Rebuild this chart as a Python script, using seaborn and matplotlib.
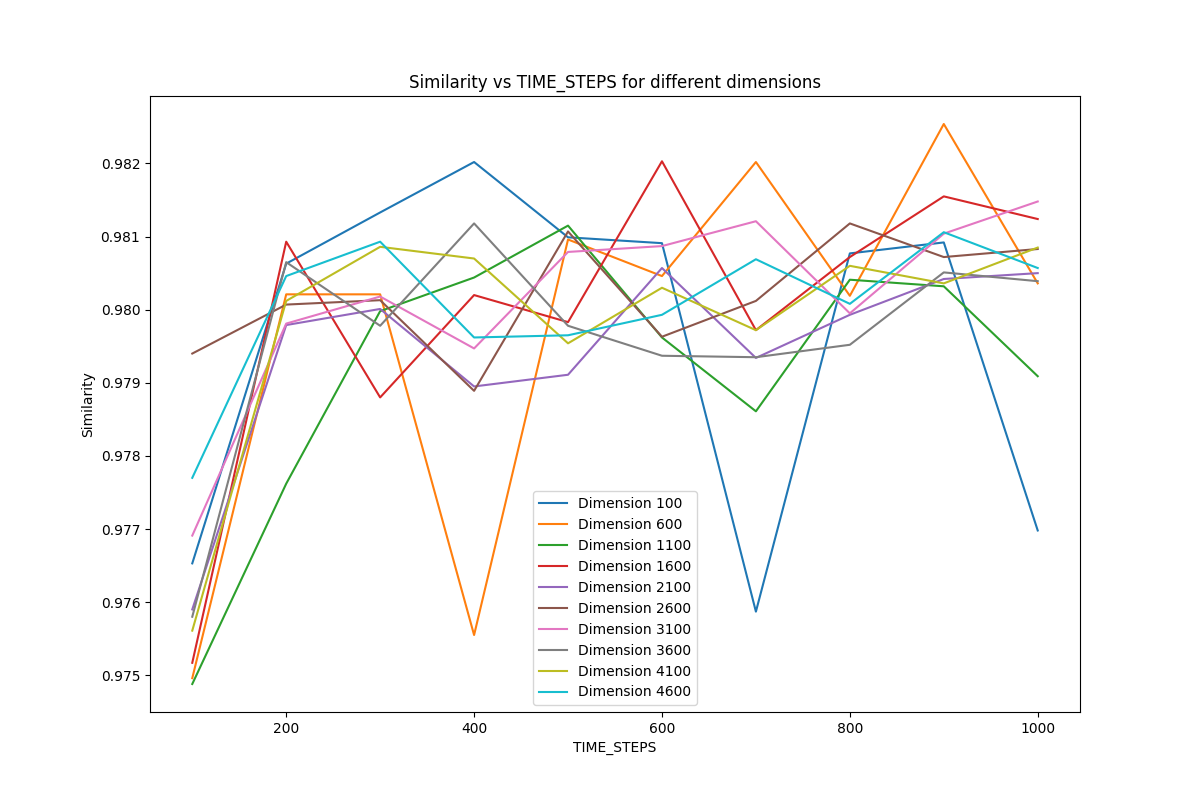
import pandas as pd
import matplotlib
matplotlib.use("Agg")
import matplotlib.pyplot as plt
import seaborn as sns

time_steps = [100, 200, 300, 400, 500, 600, 700, 800, 900, 1000]
dimensions = [100, 600, 1100, 1600, 2100, 2600, 3100, 3600, 4100, 4600]

# similarity per dimension
sim_100 = [0.97653, 0.98063, 0.98133, 0.98202, 0.98099, 0.98091, 0.97587, 0.98077, 0.98092, 0.97698]
sim_600 = [0.97496, 0.98021, 0.98021, 0.97555, 0.98096, 0.98046, 0.98202, 0.98019, 0.98254, 0.98036]
sim_1100 = [0.97488, 0.97762, 0.97998, 0.98044, 0.98115, 0.97962, 0.97861, 0.98041, 0.98032, 0.97909]
sim_1600 = [0.97517, 0.98093, 0.97880, 0.98020, 0.97983, 0.98203, 0.97972, 0.98072, 0.98155, 0.98124]
sim_2100 = [0.97590, 0.97979, 0.98001, 0.97895, 0.97911, 0.98057, 0.97934, 0.97993, 0.98042, 0.98050]
sim_2600 = [0.97940, 0.98007, 0.98013, 0.97889, 0.98107, 0.97963, 0.98012, 0.98118, 0.98072, 0.98083]
sim_3100 = [0.97691, 0.97981, 0.98018, 0.97947, 0.98079, 0.98087, 0.98121, 0.97995, 0.98104, 0.98148]
sim_3600 = [0.97580, 0.98065, 0.97978, 0.98118, 0.97978, 0.97937, 0.97935, 0.97952, 0.98051, 0.98039]
sim_4100 = [0.97561, 0.98012, 0.98086, 0.98070, 0.97954, 0.98030, 0.97972, 0.98060, 0.98036, 0.98085]
sim_4600 = [0.97770, 0.98046, 0.98093, 0.97962, 0.97965, 0.97993, 0.98069, 0.98008, 0.98106, 0.98057]

series = [sim_100, sim_600, sim_1100, sim_1600, sim_2100,
          sim_2600, sim_3100, sim_3600, sim_4100, sim_4600]

rows = []
for dim, vals in zip(dimensions, series):
    for t, v in zip(time_steps, vals):
        rows.append({"TIME_STEPS": t, "Similarity": v, "dim": f"Dimension {dim}"})
df = pd.DataFrame(rows)
labels = [f"Dimension {d}" for d in dimensions]

fig, ax = plt.subplots(figsize=(12, 8), dpi=100)
sns.lineplot(data=df, x="TIME_STEPS", y="Similarity", hue="dim",
             hue_order=labels, palette="tab10", ax=ax, linewidth=1.5)
ax.legend(loc="lower center")
ax.set_title("Similarity vs TIME_STEPS for different dimensions")
ax.set_xlabel("TIME_STEPS")
ax.set_ylabel("Similarity")
plt.savefig("out.png")
